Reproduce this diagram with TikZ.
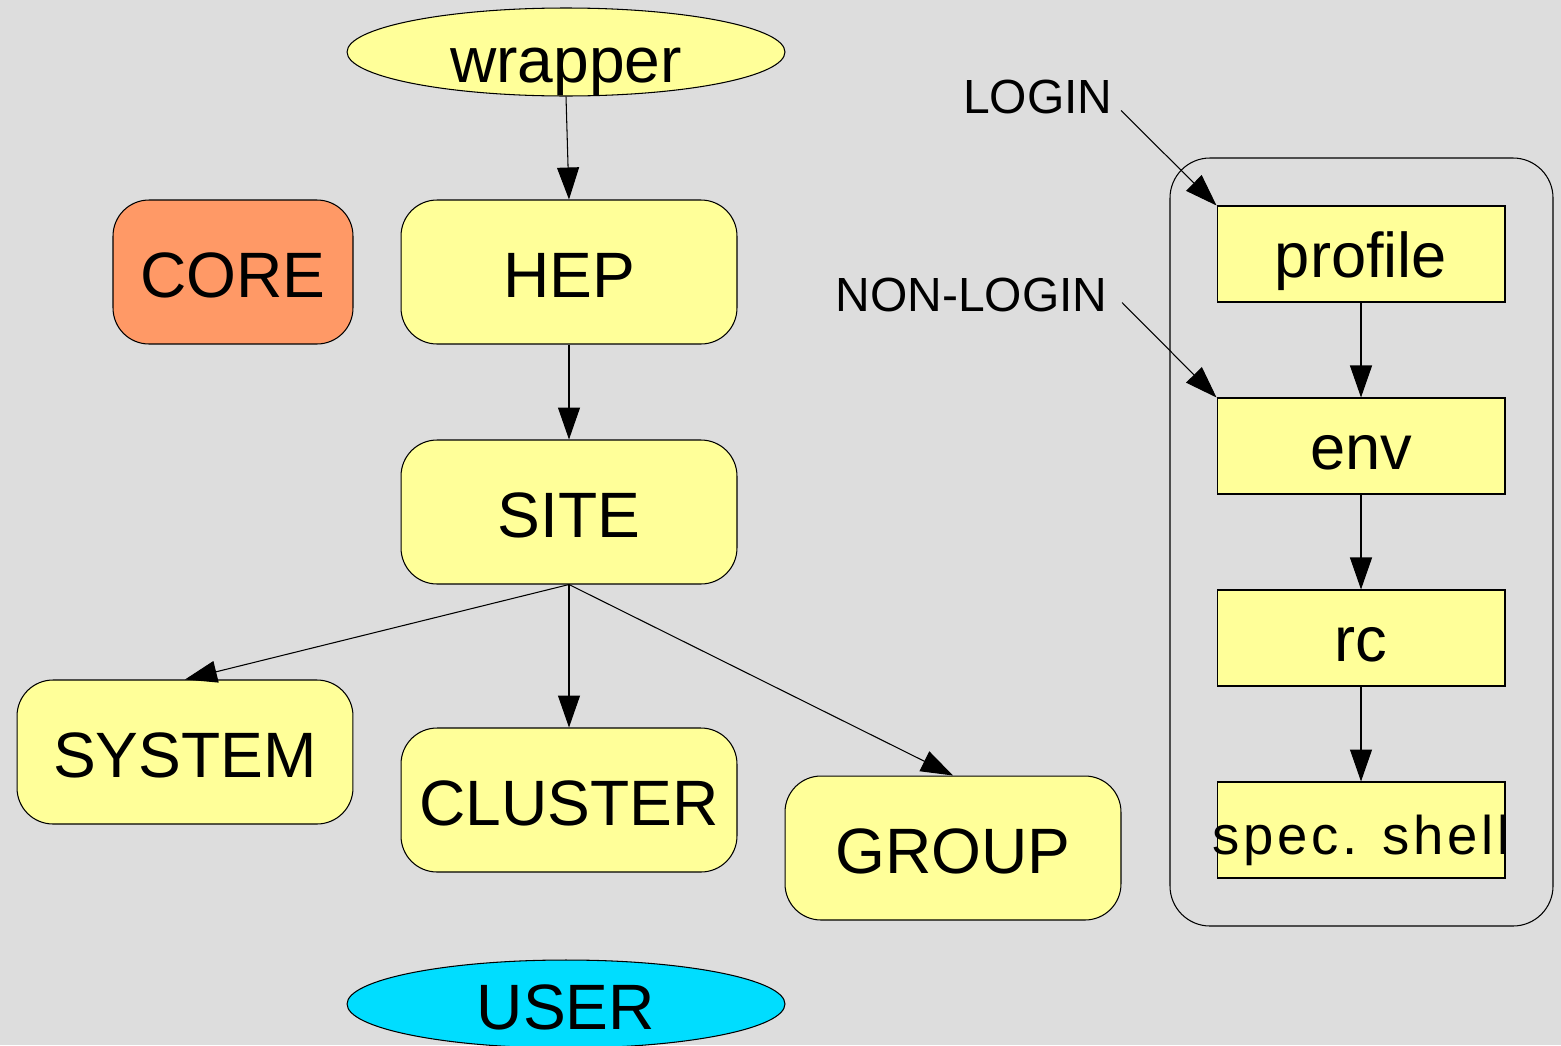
\documentclass[tikz,border=0pt]{standalone}
\usepackage{fontspec}
\setmainfont{Liberation Sans}
\usetikzlibrary{shapes.geometric,arrows.meta}
\definecolor{bggray}{HTML}{DDDDDD}
\definecolor{pale}{HTML}{FFFF99}
\definecolor{corecol}{HTML}{FF9966}
\definecolor{usercol}{HTML}{00DDFF}

\begin{document}
\begin{tikzpicture}[x=0.02cm, y=-0.02cm, line width=0.6pt,
    box/.style={draw, fill=pale, rounded corners=0.72cm, minimum width=6.72cm,
        minimum height=2.88cm, inner sep=0, text height=33pt, text depth=3.5pt,
        font=\fontsize{36.5}{40}\selectfont},
    oval/.style={draw, ellipse, minimum width=8.76cm, minimum height=1.76cm,
        inner sep=0, text height=31pt, text depth=2pt,
        font=\fontsize{36.5}{40}\selectfont},
    file/.style={draw, fill=pale, minimum width=5.76cm, minimum height=1.92cm,
        inner sep=0, text height=30pt, text depth=3.6pt,
        font=\fontsize{36}{40}\selectfont},
    tag/.style={anchor=east, inner ysep=0, font=\fontsize{27.3}{30}\selectfont},
    link/.style={-{Triangle[length=0.64cm, width=0.44cm]}}]
    \fill[bggray] (0, 0) rectangle (1561, 1045);
    \useasboundingbox (0, 0) rectangle (1561, 1045);

    % left tree
    \node[oval, fill=pale, text height=34.5pt, text depth=0pt] (wrapper) at (566, 52) {wrapper};
    \node[box, fill=corecol, minimum width=4.8cm] (core) at (233, 272) {CORE};
    \node[box] (hep) at (569, 272) {HEP};
    \node[box] (site) at (569, 512) {SITE};
    \node[box] (system) at (185, 752) {SYSTEM};
    \node[box] (cluster) at (569, 800) {CLUSTER};
    \node[box] (group) at (953, 848) {GROUP};
    \node[oval, fill=usercol] (user) at (566, 1004) {USER};

    \draw[link] (wrapper.south) -- (hep.north);
    \draw[link] (hep.south) -- (site.north);
    \draw[link] (site.south) -- (system.north);
    \draw[link] (site.south) -- (cluster.north);
    \draw[link] (site.south) -- (group.north);

    % shell files
    \draw[rounded corners=0.8cm] (1170, 158) rectangle (1553, 926);
    \node[file] (profile) at (1361, 254) {profile};
    \node[file] (env) at (1361, 446) {env};
    \node[file] (rc) at (1361, 638) {rc};
    \node[file, text height=28pt, text depth=0pt,
        font=\fontsize{31}{34}\selectfont\addfontfeature{LetterSpace=7}] (spec) at (1361, 830)
        {\makebox[5cm]{spec. shell}};

    \node[tag, inner xsep=0.16cm] (login) at (1121, 97) {LOGIN};
    \node[tag, inner xsep=0.28cm] (nonlogin) at (1122, 295) {NON-LOGIN};

    \draw[link] ([yshift=0.08cm]login.south east) -- (profile.north west);
    \draw[link] ([yshift=0.2cm]nonlogin.south east) -- (env.north west);
    \draw[link] (profile.south) -- (env.north);
    \draw[link] (env.south) -- (rc.north);
    \draw[link] (rc.south) -- (spec.north);
  \end{tikzpicture}
\end{document}
